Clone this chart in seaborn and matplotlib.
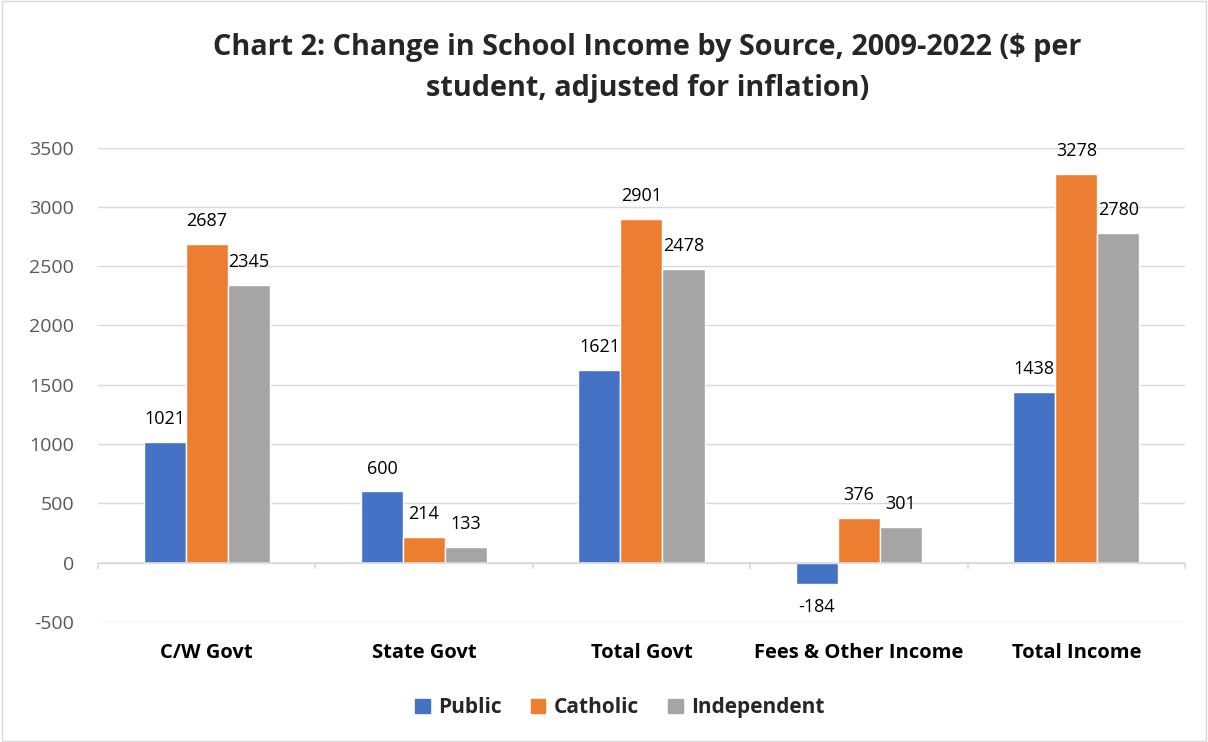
import seaborn as sns
import pandas as pd
import matplotlib.pyplot as plt
from matplotlib.patches import Rectangle

categories = ['C/W Govt', 'State Govt', 'Total Govt', 'Fees & Other Income', 'Total Income']
public = [1021, 600, 1621, -184, 1438]
catholic = [2687, 214, 2901, 376, 3278]
independent = [2345, 133, 2478, 301, 2780]
sectors = ['Public', 'Catholic', 'Independent']
colors = ['#4472C4', '#ED7D31', '#A5A5A5']

df = pd.DataFrame({'Category': categories, 'Public': public,
                   'Catholic': catholic, 'Independent': independent})
data = df.melt(id_vars='Category', var_name='Sector', value_name='Value')

sns.set_theme(style='white')
plt.rcParams['font.family'] = ['Open Sans', 'DejaVu Sans']
plt.rcParams['axes.unicode_minus'] = False

fig = plt.figure(figsize=(12.08, 7.42), dpi=100)
ax = fig.add_axes([0.081, 0.162, 0.900, 0.639])

sns.barplot(data=data, x='Category', y='Value', hue='Sector', hue_order=sectors,
            palette=colors, width=0.58, saturation=1, ax=ax, legend=False)

for c in ax.containers:
    ax.bar_label(c, padding=10, fontsize=13, color='#000000')

ax.set_ylim(-500, 3500)
ax.set_yticks(range(-500, 3501, 500))
ax.set_xlim(-0.5, len(categories) - 0.5)
ax.yaxis.grid(True, color='#D9D9D9', linewidth=1)
ax.set_axisbelow(True)
for s in ax.spines.values():
    s.set_visible(False)
ax.axhline(0, color='#D9D9D9', linewidth=1.2, zorder=1)
ax.vlines([i - 0.5 for i in range(len(categories) + 1)], -55, 0,
          color='#D9D9D9', linewidth=1.2, clip_on=False)
ax.tick_params(axis='y', length=0, pad=17, labelsize=14, labelcolor='#595959')
ax.tick_params(axis='x', length=0, pad=15)
for lbl in ax.get_xticklabels():
    lbl.set_fontweight('bold')
    lbl.set_fontsize(14.5)
    lbl.set_color('#000000')
ax.set_xlabel('')
ax.set_ylabel('')

fig.suptitle('Chart 2: Change in School Income by Source, 2009-2022 ($ per\nstudent, adjusted for inflation)',
             x=0.536, y=0.955, fontsize=20.8, fontweight='bold', linespacing=1.55)

handles = [Rectangle((0, 0), 1, 1, color=c) for c in colors]
fig.legend(handles, sectors, loc='center', bbox_to_anchor=(0.513, 0.046), ncol=3,
           frameon=False, prop={'weight': 'bold', 'size': 15}, handlelength=0.7,
           handleheight=0.7, columnspacing=1.4, handletextpad=0.4)

fig.add_artist(Rectangle((0.002, 0.002), 0.996, 0.996, transform=fig.transFigure,
                         fill=False, edgecolor='#D9D9D9', linewidth=1))

fig.savefig('out.png', dpi=100)
